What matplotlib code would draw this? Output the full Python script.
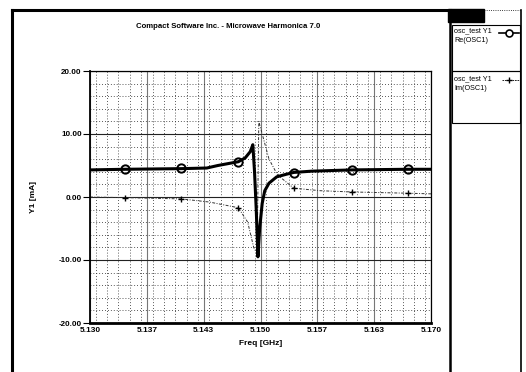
import matplotlib.pyplot as plt
from matplotlib.lines import Line2D
from matplotlib.patches import Rectangle
from matplotlib.ticker import MultipleLocator, FixedLocator

plt.rcParams['font.family'] = ['Liberation Sans', 'DejaVu Sans']
plt.rcParams['font.weight'] = 'bold'

# Re(OSC1) curve
freq_re = [5.1300, 5.1341, 5.1407, 5.1437, 5.1450, 5.1462, 5.1474, 5.1482, 5.1488, 5.1491,
           5.1493, 5.1495, 5.1497, 5.1499, 5.1502, 5.1505, 5.1510, 5.1519, 5.1530, 5.1539,
           5.1560, 5.1607, 5.1673, 5.1700]
re_y1 = [4.3, 4.4, 4.5, 4.6, 5.0, 5.3, 5.6, 6.2, 7.2, 8.3,
         4.0, -2.0, -9.5, -5.0, -1.0, 1.0, 2.2, 3.2, 3.6, 3.9,
         4.1, 4.3, 4.4, 4.4]

# Im(OSC1) curve
freq_im = [5.1300, 5.1341, 5.1407, 5.1440, 5.1474, 5.1485, 5.1492, 5.1496, 5.1498,
           5.1500, 5.1505, 5.1510, 5.1520, 5.1539, 5.1570, 5.1607, 5.1673, 5.1700]
im_y1 = [0.0, -0.1, -0.3, -0.8, -1.7, -4.0, -8.0, -9.0, 12.0,
         11.0, 8.5, 6.0, 3.5, 1.4, 1.0, 0.8, 0.6, 0.5]

# marker positions
freq_mk = [5.1341, 5.1407, 5.1474, 5.1539, 5.1607, 5.1673]
re_mk = [4.4, 4.6, 5.6, 3.8, 4.3, 4.4]
im_mk = [-0.1, -0.3, -1.7, 1.4, 0.8, 0.6]

x_ticks = [5.130, 5.13667, 5.14333, 5.150, 5.15667, 5.16333, 5.170]
x_labels = ['5.130', '5.137', '5.143', '5.150', '5.157', '5.163', '5.170']
y_ticks = [-20, -10, 0, 10, 20]
y_labels = ['-20.00', '-10.00', '0.00', '10.00', '20.00']

W, H = 526, 372
fig = plt.figure(figsize=(W / 100, H / 100), dpi=100)

# frame drawn in pixel coordinates
frame = fig.add_axes([0, 0, 1, 1])
frame.set_xlim(0, W)
frame.set_ylim(H, 0)
frame.axis('off')
frame.add_line(Line2D([12, 12], [10, H], color='black', lw=2.2))
frame.add_line(Line2D([12, 450], [10, 10], color='black', lw=2.2))
frame.add_line(Line2D([450, 450], [10, H], color='black', lw=1.8))
frame.add_line(Line2D([484, 521], [10, 10], color='black', lw=0.6, ls=':'))
frame.add_line(Line2D([521, 521], [10, H], color='black', lw=1.2))
frame.add_patch(Rectangle((448, 9), 36, 13, color='black'))
frame.add_patch(Rectangle((452, 25), 68, 46, fill=False, ec='black', lw=0.8))
frame.add_patch(Rectangle((452, 71), 68, 52, fill=False, ec='black', lw=0.8))

frame.text(228, 26, 'Compact Software Inc. - Microwave Harmonica 7.0',
           ha='center', va='center', fontsize=5.6, fontweight='bold')

# legend entries
frame.text(454, 31, 'osc_test Y1', fontsize=5.2, va='center', fontweight='normal')
frame.text(454, 40, 'Re(OSC1)', fontsize=5.2, va='center', fontweight='normal')
frame.add_line(Line2D([499, 519], [33, 33], color='black', lw=1.2))
frame.add_line(Line2D([509], [33], marker='o', ms=5, mfc='white', mec='black', mew=1.2))
frame.text(454, 79, 'osc_test Y1', fontsize=5.2, va='center', fontweight='normal')
frame.text(454, 88, 'Im(OSC1)', fontsize=5.2, va='center', fontweight='normal')
frame.add_line(Line2D([502, 519], [80, 80], color='black', lw=0.6, ls=(0, (2, 1))))
frame.add_line(Line2D([509], [80], marker='+', ms=5, color='black', mew=1))

# main plot
ax = fig.add_axes([90 / W, 1 - 323 / H, 341 / W, 252 / H])
ax.set_xlim(5.130, 5.170)
ax.set_ylim(-20, 20)

ax.xaxis.set_major_locator(FixedLocator(x_ticks))
ax.xaxis.set_minor_locator(MultipleLocator(0.04 / 30))
ax.yaxis.set_major_locator(FixedLocator(y_ticks))
ax.yaxis.set_minor_locator(MultipleLocator(2))
ax.set_xticklabels(x_labels)
ax.set_yticklabels(y_labels)

ax.grid(which='major', axis='x', color='#777777', lw=0.8)
ax.grid(which='major', axis='y', color='#222222', lw=0.8)
ax.grid(which='minor', color='#222222', lw=0.6, ls=(0, (1, 2.5)))

ax.tick_params(which='major', axis='y', length=5, width=0.8, labelsize=5.8, pad=1)
ax.tick_params(which='major', axis='x', length=0, labelsize=6, pad=3)
ax.tick_params(which='minor', length=0)
for s in ax.spines.values():
    s.set_linewidth(0.9)
ax.spines['bottom'].set_linewidth(2)
ax.spines['left'].set_linewidth(1.3)

ax.plot(freq_im, im_y1, color='#333333', lw=0.7, ls=(0, (3, 1.5, 1, 1.5)))
ax.plot(freq_mk, im_mk, ls='none', marker='+', ms=5, color='black', mew=1)
ax.plot(freq_re, re_y1, color='black', lw=2.2)
ax.plot(freq_mk, re_mk, ls='none', marker='o', ms=6, mfc='none', mec='black', mew=1.4)

ax.set_xlabel('Freq [GHz]', fontsize=6, fontweight='bold')
ax.xaxis.set_label_coords(0.5, -0.067)
ax.set_ylabel('Y1 [mA]', fontsize=6, fontweight='bold')
ax.yaxis.set_label_coords(-0.155, 0.5)

fig.savefig('out.png', dpi=100)
